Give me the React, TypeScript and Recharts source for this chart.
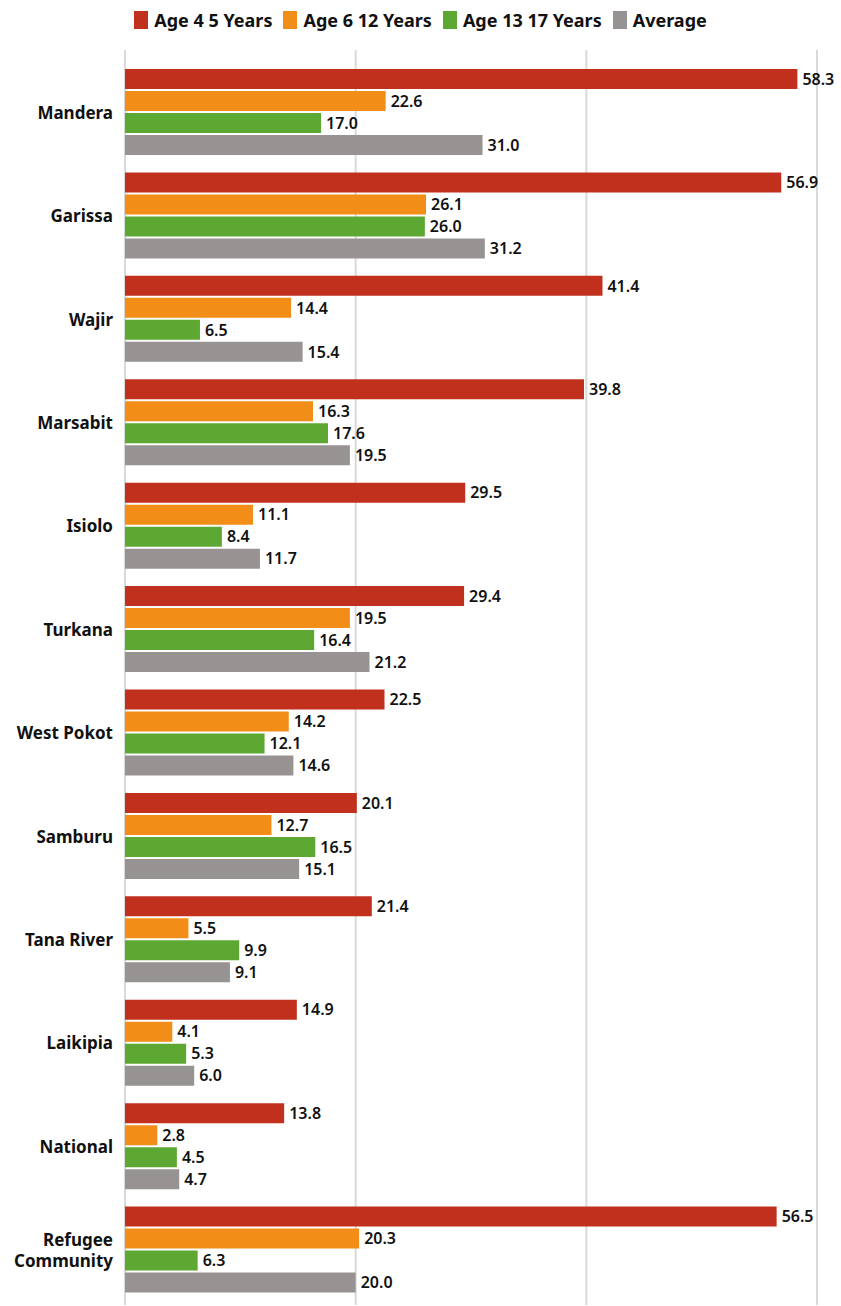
import React from "react"
import { Bar, BarChart, CartesianGrid, LabelList, Legend, XAxis, YAxis } from "recharts"

const counties = [
  "Mandera",
  "Garissa",
  "Wajir",
  "Marsabit",
  "Isiolo",
  "Turkana",
  "West Pokot",
  "Samburu",
  "Tana River",
  "Laikipia",
  "National",
  "Refugee Community",
]

const age4to5 = [58.3, 56.9, 41.4, 39.8, 29.5, 29.4, 22.5, 20.1, 21.4, 14.9, 13.8, 56.5]
const age6to12 = [22.6, 26.1, 14.4, 16.3, 11.1, 19.5, 14.2, 12.7, 5.5, 4.1, 2.8, 20.3]
const age13to17 = [17.0, 26.0, 6.5, 17.6, 8.4, 16.4, 12.1, 16.5, 9.9, 5.3, 4.5, 6.3]
const average = [31.0, 31.2, 15.4, 19.5, 11.7, 21.2, 14.6, 15.1, 9.1, 6.0, 4.7, 20.0]

const xTicks = [0, 20, 40, 60]

const series = [
  { key: "a45", name: "Age 4 5 Years", color: "#c1301c", values: age4to5 },
  { key: "a612", name: "Age 6 12 Years", color: "#f28d17", values: age6to12 },
  { key: "a1317", name: "Age 13 17 Years", color: "#5ca832", values: age13to17 },
  { key: "avg", name: "Average", color: "#979392", values: average },
]

const data = counties.map((name, i) => {
  const row: Record<string, string | number> = { name }
  series.forEach((s) => {
    row[s.key] = s.values[i]
  })
  return row
})

const FONT = "'Noto Sans', sans-serif"

function CountyTick({ x, y, payload }: any) {
  const words: string[] = payload.value === "Refugee Community" ? ["Refugee", "Community"] : [payload.value]
  const startDy = -((words.length - 1) * 21) / 2
  return (
    <text
      x={x}
      y={y}
      textAnchor="end"
      fill="#111"
      fontSize={17}
      fontWeight={700}
      fontFamily={FONT}
      dominantBaseline="central"
    >
      {words.map((w, i) => (
        <tspan key={w} x={x} dy={i === 0 ? startDy : 21}>
          {w}
        </tspan>
      ))}
    </text>
  )
}

function TopLegend() {
  return (
    <div style={{ display: "flex", justifyContent: "center", gap: 11, fontFamily: FONT, height: 24 }}>
      {series.map((s) => (
        <div key={s.key} style={{ display: "flex", alignItems: "center", gap: 6 }}>
          <span style={{ width: 14, height: 18, background: s.color, display: "inline-block" }} />
          <span style={{ fontSize: 18, fontWeight: 700, color: "#111" }}>{s.name}</span>
        </div>
      ))}
    </div>
  )
}

export default function App() {
  return (
    <div style={{ position: "absolute", left: 0, top: 0, background: "#fff" }}>
      <BarChart
        width={841}
        height={1306}
        data={data}
        layout="vertical"
        margin={{ top: 26, right: 24, bottom: 1, left: 0 }}
        barSize={20}
        barGap={2}
      >
        <CartesianGrid horizontal={false} stroke="#d9d9d9" strokeWidth={2} />
        <XAxis type="number" domain={[0, 60]} ticks={xTicks} hide />
        <YAxis
          type="category"
          dataKey="name"
          width={125}
          axisLine={false}
          tickLine={false}
          tick={<CountyTick />}
          tickMargin={6}
          padding={{ top: 10, bottom: 4 }}
          interval={0}
        />
        <Legend verticalAlign="top" content={<TopLegend />} wrapperStyle={{ top: 8, left: 0, width: 841 }} />
        {series.map((s) => (
          <Bar key={s.key} dataKey={s.key} name={s.name} fill={s.color} isAnimationActive={false}>
            <LabelList
              dataKey={s.key}
              position="right"
              offset={5}
              formatter={(v: any) => Number(v).toFixed(1)}
              style={{ fill: "#111", fontSize: 16, fontWeight: 600, fontFamily: FONT }}
            />
          </Bar>
        ))}
      </BarChart>
    </div>
  )
}
